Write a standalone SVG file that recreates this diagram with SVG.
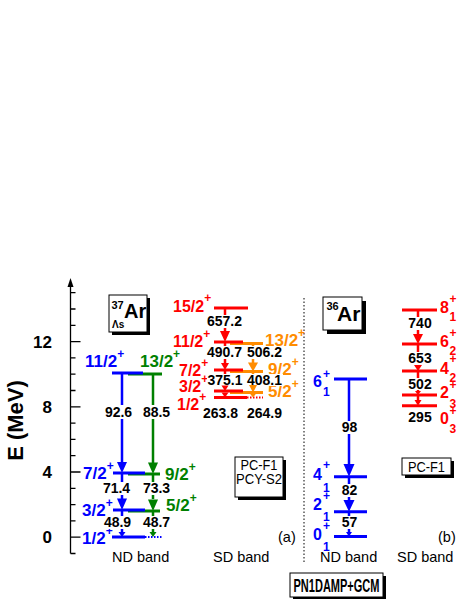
<svg xmlns="http://www.w3.org/2000/svg" width="463" height="599" viewBox="0 0 463 599">
<style>
text{font-family:"Liberation Sans",Arial,sans-serif}
.lv{stroke-width:3;fill:none}
.dt{stroke-width:2;fill:none;stroke-dasharray:1.5 1.5}
.st{stroke-width:2.5;fill:none}
.bs{stroke:#0000ff}.gs{stroke:#008000}.rs{stroke:#ff0000}.os{stroke:#ff8c00}
.bf{fill:#0000ff}.gf{fill:#008000}.rf{fill:#ff0000}.of{fill:#ff8c00}
.lb{font-weight:bold;font-size:17px}
.lr{font-weight:bold;font-size:16px}
.sp{font-size:12px}
.ss{font-weight:bold;font-size:12px}
.num{font-weight:bold;font-size:14px;text-anchor:middle;fill:#000}
.bg{fill:#fff}
.box{fill:#fff;stroke:#000;stroke-width:1}
.cap{font-size:14.5px;fill:#000}
.tk{stroke:#000;stroke-width:1.3;fill:none}
.ax{font-weight:bold;font-size:17px;text-anchor:end}
</style>
<rect width="463" height="599" fill="#fff"/>

<g id="axis">
<line class="tk" x1="70.5" y1="284" x2="70.5" y2="553.5"/>
<polygon points="70.5,278 67.5,287 73.5,287"/>
<path class="tk" d="M70.5 553.5h5M70.5 537.2h10M70.5 520.9h5M70.5 504.6h5M70.5 488.3h5M70.5 472h10M70.5 455.7h5M70.5 439.4h5M70.5 423.1h5M70.5 406.8h10M70.5 390.5h5M70.5 374.2h5M70.5 357.9h5M70.5 341.6h10M70.5 325.3h5M70.5 309h5M70.5 292.7h5"/>
<text class="ax" x="52" y="543.2">0</text>
<text class="ax" x="52" y="478">4</text>
<text class="ax" x="52" y="412.8">8</text>
<text class="ax" x="52" y="347.6">12</text>
<text font-weight="bold" font-size="22" text-anchor="middle" transform="translate(23 420.5) rotate(-90)">E (MeV)</text>
</g>

<g id="box-37Ar">
<rect x="112" y="298" width="38" height="37" fill="#000"/>
<rect class="box" x="109" y="295" width="38" height="37"/>
<text x="111.5" y="309" font-weight="bold" font-size="11">37</text>
<text x="124" y="318" font-weight="bold" font-size="20">Ar</text>
<text x="112" y="328" font-weight="bold" font-size="10">Λs</text>
</g>

<g id="box-36Ar">
<rect x="327" y="301" width="39" height="33" fill="#000"/>
<rect class="box" x="323" y="297" width="39" height="33"/>
<text x="326.5" y="310" font-weight="bold" font-size="11">36</text>
<text x="337" y="321" font-weight="bold" font-size="21">Ar</text>
</g>

<g id="box-pcf1-pcys2">
<rect x="238" y="460" width="48" height="40" fill="#000"/>
<rect class="box" x="235" y="457" width="48" height="40"/>
<text x="259" y="470" font-size="14" text-anchor="middle" textLength="37" lengthAdjust="spacingAndGlyphs">PC-F1</text>
<text x="259" y="484" font-size="14" text-anchor="middle" textLength="46" lengthAdjust="spacingAndGlyphs">PCY-S2</text>
</g>

<g id="box-pcf1">
<rect x="405" y="461" width="49" height="17" fill="#000"/>
<rect class="box" x="402" y="458" width="49" height="17"/>
<text x="426.5" y="471.5" font-size="14" text-anchor="middle" textLength="37" lengthAdjust="spacingAndGlyphs">PC-F1</text>
</g>

<g id="box-method">
<rect x="293" y="576" width="93" height="30" fill="#000"/>
<rect class="box" x="290" y="573" width="93" height="24"/>
<text x="336.5" y="591.5" font-weight="bold" font-size="18" text-anchor="middle" textLength="86" lengthAdjust="spacingAndGlyphs">PN1DAMP+GCM</text>
</g>

<g id="captions">
<text class="cap" x="112" y="562">ND band</text>
<text class="cap" x="213" y="562">SD band</text>
<text class="cap" x="320" y="562">ND band</text>
<text class="cap" x="397" y="562">SD band</text>
<text font-size="14.5" x="278" y="542">(a)</text>
<text font-size="14.5" x="438" y="542">(b)</text>
<line x1="304" y1="298" x2="304" y2="563" stroke="#000" stroke-width="1" stroke-dasharray="1.5 2"/>
</g>

<!-- 37Ar ND band -->
<g id="nd37-green-13-2"><line class="lv gs" x1="128" y1="374" x2="162" y2="374"/><text class="lb gf" x="140" y="367">13/2<tspan class="sp" dy="-9">+</tspan></text></g>
<g id="nd37-blue-11-2"><line class="lv bs" x1="112" y1="373" x2="143" y2="373"/><text class="lb bf" x="85" y="367">11/2<tspan class="sp" dy="-9">+</tspan></text></g>
<g id="nd37-green-9-2"><line class="lv gs" x1="128" y1="474" x2="160" y2="474"/><text class="lb gf" x="165" y="480">9/2<tspan class="sp" dy="-9">+</tspan></text></g>
<g id="nd37-blue-7-2"><line class="lv bs" x1="113" y1="473" x2="145" y2="473"/><text class="lb bf" x="83" y="479">7/2<tspan class="sp" dy="-9">+</tspan></text></g>
<g id="nd37-green-5-2"><line class="lv gs" x1="128" y1="511" x2="160" y2="511"/><text class="lb gf" x="166" y="511">5/2<tspan class="sp" dy="-9">+</tspan></text></g>
<g id="nd37-blue-3-2"><line class="lv bs" x1="113" y1="510" x2="145" y2="510"/><text class="lb bf" x="82" y="516">3/2<tspan class="sp" dy="-9">+</tspan></text></g>
<g id="nd37-blue-1-2"><line class="lv bs" x1="112" y1="537" x2="145" y2="537"/><line class="dt bs" x1="145" y1="537" x2="162" y2="537"/><text class="lb bf" x="82" y="544">1/2<tspan class="sp" dy="-9">+</tspan></text></g>

<!-- 37Ar SD band -->
<g id="sd37-red-15-2"><line class="lv rs" x1="214" y1="308" x2="248" y2="308"/><text class="lr rf" x="173" y="311.5">15/2<tspan class="sp" dy="-9.5">+</tspan></text></g>
<g id="sd37-orange-13-2"><line class="lv os" x1="230" y1="343.5" x2="263" y2="343.5"/><text class="lb of" x="265" y="346">13/2<tspan class="sp" dy="-9">+</tspan></text></g>
<g id="sd37-red-11-2"><line class="lv rs" x1="214" y1="342" x2="243" y2="342"/><text class="lr rf" x="173" y="347">11/2<tspan class="sp" dy="-9.5">+</tspan></text></g>
<g id="sd37-orange-9-2"><line class="lv os" x1="230" y1="371.5" x2="263" y2="371.5"/><text class="lb of" x="268" y="375">9/2<tspan class="sp" dy="-9">+</tspan></text></g>
<g id="sd37-red-7-2"><line class="lv rs" x1="214" y1="370" x2="243" y2="370"/><text class="lr rf" x="179" y="376">7/2<tspan class="sp" dy="-9.5">+</tspan></text></g>
<g id="sd37-orange-5-2"><line class="lv os" x1="230" y1="392.5" x2="263" y2="392.5"/><text class="lb of" x="268" y="397">5/2<tspan class="sp" dy="-9">+</tspan></text></g>
<g id="sd37-red-3-2"><line class="lv rs" x1="214" y1="391" x2="243" y2="391"/><text class="lr rf" x="179" y="392">3/2<tspan class="sp" dy="-9.5">+</tspan></text></g>
<g id="sd37-red-1-2"><line class="lv rs" x1="214" y1="397.5" x2="247" y2="397.5"/><line class="dt rs" x1="247" y1="397.5" x2="263" y2="397.5"/><text class="lr rf" x="177" y="410">1/2<tspan class="sp" dy="-9.5">+</tspan></text></g>

<!-- 36Ar ND band -->
<g id="nd36-6-1"><line class="lv bs" x1="334" y1="379" x2="367" y2="379"/><text class="lr bf" x="313" y="387">6</text><text class="ss bf" x="323" y="378">+</text><text class="ss bf" x="323" y="396">1</text></g>
<g id="nd36-4-1"><line class="lv bs" x1="334" y1="476.7" x2="367" y2="476.7"/><text class="lr bf" x="313" y="480">4</text><text class="ss bf" x="323" y="469">+</text><text class="ss bf" x="323" y="491.5">1</text></g>
<g id="nd36-2-1"><line class="lv bs" x1="334" y1="511.7" x2="367" y2="511.7"/><text class="lr bf" x="313" y="510">2</text><text class="ss bf" x="323" y="500">+</text><text class="ss bf" x="323" y="521">1</text></g>
<g id="nd36-0-1"><line class="lv bs" x1="334" y1="536.5" x2="367" y2="536.5"/><text class="lr bf" x="313" y="540">0</text><text class="ss bf" x="323" y="530">+</text><text class="ss bf" x="323" y="551">1</text></g>

<!-- 36Ar SD band -->
<g id="sd36-8-1"><line class="lv rs" x1="402" y1="310" x2="437" y2="310"/><text class="lr rf" x="440" y="313">8</text><text class="ss rf" x="449.5" y="303">+</text><text class="ss rf" x="449.5" y="321">1</text></g>
<g id="sd36-6-2"><line class="lv rs" x1="402" y1="344" x2="437" y2="344"/><text class="lr rf" x="440" y="347">6</text><text class="ss rf" x="449.5" y="337">+</text><text class="ss rf" x="449.5" y="355">2</text></g>
<g id="sd36-4-2"><line class="lv rs" x1="402" y1="371" x2="437" y2="371"/><text class="lr rf" x="440" y="374">4</text><text class="ss rf" x="449.5" y="363">+</text><text class="ss rf" x="449.5" y="382">2</text></g>
<g id="sd36-2-3"><line class="lv rs" x1="402" y1="395" x2="437" y2="395"/><text class="lr rf" x="440" y="398">2</text><text class="ss rf" x="449.5" y="388.5">+</text><text class="ss rf" x="449.5" y="408">3</text></g>
<g id="sd36-0-3"><line class="lv rs" x1="402" y1="405.7" x2="437" y2="405.7"/><text class="lr rf" x="440" y="424">0</text><text class="ss rf" x="449.5" y="414.5">+</text><text class="ss rf" x="449.5" y="433">3</text></g>

<g id="connectors">
<path class="st bs" d="M122 373V463M122 473V499M122 510V533M349 379V465M349 476.7V501M349 511.7V533"/>
<path class="st gs" d="M153 374V463M153 474V499M153 511V533"/>
<path class="st rs" d="M225 308V332M225 342V364M225 370V386M418 310V335M418 344V366M418 371V391M418 395V401"/>
<path class="st os" d="M253 343.5V363M253 371.5V385"/>
<rect class="bg" x="104" y="405" width="29" height="14"/>
<rect class="bg" x="142" y="405" width="29" height="14"/>
<rect class="bg" x="102" y="482" width="29" height="13"/>
<rect class="bg" x="142" y="482" width="29" height="13"/>
<rect class="bg" x="103" y="516" width="29" height="13"/>
<rect class="bg" x="142" y="516" width="29" height="13"/>
<rect class="bg" x="206" y="315" width="37" height="13"/>
<rect class="bg" x="206" y="346" width="37" height="13"/>
<rect class="bg" x="246" y="346" width="37" height="13"/>
<rect class="bg" x="207" y="374" width="37" height="12"/>
<rect class="bg" x="246" y="374" width="37" height="12"/>
<rect class="bg" x="340" y="421" width="19" height="13"/>
<rect class="bg" x="340" y="484" width="19" height="13"/>
<rect class="bg" x="340" y="516" width="19" height="13"/>
<rect class="bg" x="407" y="317" width="26" height="13"/>
<rect class="bg" x="407" y="352" width="26" height="13"/>
<rect class="bg" x="407" y="378" width="26" height="12"/>
<polygon class="bf" points="117,462 127,462 122,473"/>
<polygon class="bf" points="117,498.5 127,498.5 122,510"/>
<polygon class="bf" points="118.5,532 125.5,532 122,537"/>
<polygon class="gf" points="148,462.5 158,462.5 153,474"/>
<polygon class="gf" points="148,499.5 158,499.5 153,511"/>
<polygon class="gf" points="149.5,532 156.5,532 153,537"/>
<polygon class="rf" points="220,331 230,331 225,342"/>
<polygon class="rf" points="221,363 229,363 225,370"/>
<polygon class="rf" points="221.5,385.5 228.5,385.5 225,391"/>
<polygon class="rf" points="221.5,392.5 228.5,392.5 225,397.5"/>
<polygon class="of" points="248,362.5 258,362.5 253,371.5"/>
<polygon class="of" points="249,385 257,385 253,392.5"/>
<polygon class="of" points="249.5,393 256.5,393 253,397.5"/>
<polygon class="bf" points="343.5,464 354.5,464 349,476.7"/>
<polygon class="bf" points="343.5,500 354.5,500 349,511.7"/>
<polygon class="bf" points="346,532 352,532 349,536.5"/>
<polygon class="rf" points="413,334 423,334 418,344"/>
<polygon class="rf" points="414,365 422,365 418,371"/>
<polygon class="rf" points="415,391 421,391 418,395"/>
<polygon class="rf" points="414.5,400 421.5,400 418,405.7"/>
<text class="num" x="118.5" y="417">92.6</text>
<text class="num" x="156.5" y="417">88.5</text>
<text class="num" x="116.5" y="493">71.4</text>
<text class="num" x="156.5" y="493">73.3</text>
<text class="num" x="117.5" y="527">48.9</text>
<text class="num" x="156.5" y="527">48.7</text>
<text class="num" x="224.5" y="326">657.2</text>
<text class="num" x="224.5" y="357">490.7</text>
<text class="num" x="264.5" y="357">506.2</text>
<text class="num" x="225" y="385">375.1</text>
<text class="num" x="264.5" y="385">408.1</text>
<text class="num" x="220.5" y="418">263.8</text>
<text class="num" x="264.5" y="418">264.9</text>
<text class="num" x="349.5" y="432">98</text>
<text class="num" x="349.5" y="495">82</text>
<text class="num" x="349.5" y="527">57</text>
<text class="num" x="420" y="328">740</text>
<text class="num" x="420" y="363">653</text>
<text class="num" x="420" y="389">502</text>
<text class="num" x="420" y="422">295</text>
</g>
</svg>
